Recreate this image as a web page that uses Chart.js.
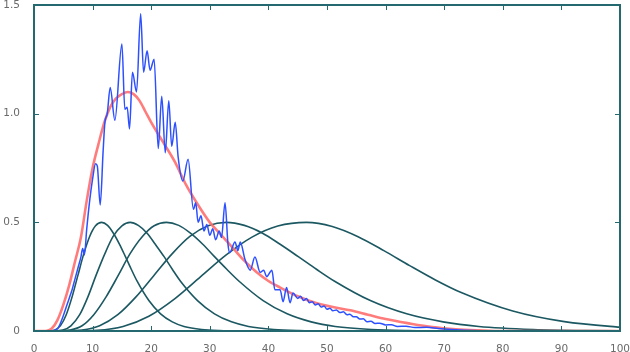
<!DOCTYPE html>
<html>
<head>
<meta charset="utf-8">
<script src="https://cdn.jsdelivr.net/npm/chart.js@4.4.1/dist/chart.umd.min.js"></script>
<style>
  html, body { margin: 0; padding: 0; background: #fff; overflow: hidden; }
  #wrap { width: 640px; height: 352px; }
</style>
</head>
<body>
<div id="wrap"><canvas id="grafico" width="640" height="352"></canvas></div>
<script>
// tick labels
const xTicks = [0, 10, 20, 30, 40, 50, 60, 70, 80, 90, 100];
const yTicks = [0, 0.5, 1, 1.5];

// shape of the four narrower component curves (peak 0.5)
const compShape = [0, 0.0001, 0.004, 0.024, 0.075, 0.157, 0.257, 0.356, 0.435, 0.484, 0.5,
                   0.486, 0.45, 0.399, 0.342, 0.284, 0.229, 0.14, 0.079, 0.042, 0.021, 0.007, 0.002, 0.0003, 0];
const compAx = [1.5, 2.5, 3.5, 4.5, 5.5, 6.5, 7.5, 8.5, 9.5, 10.5, 11.55, 12.55, 13.55, 14.6, 15.6, 16.6, 17.6, 19.6, 21.6, 23.6, 25.6, 28.6, 31.6, 36.7, 41.7];
const compBx = [2, 3.4, 4.9, 6.3, 7.8, 9.2, 10.6, 12.1, 13.5, 15.0, 16.4, 17.8, 19.3, 20.7, 22.2, 23.6, 25.0, 27.9, 30.8, 33.7, 36.6, 40.9, 45.2, 52.4, 59.6];
const compCx = [2, 4.1, 6.1, 8.2, 10.2, 12.3, 14.4, 16.4, 18.5, 20.5, 22.6, 24.7, 26.7, 28.8, 30.8, 32.9, 35.0, 39.1, 43.2, 47.3, 51.4, 57.6, 63.8, 74.1, 84.4];
const compDx = [2, 5.1, 8.2, 11.2, 14.3, 17.4, 20.5, 23.6, 26.6, 29.7, 32.8, 35.9, 39.0, 42.0, 45.1, 48.2, 51.3, 57.4, 63.6, 69.8, 75.9, 85.2, 94.4, 109.8, 125.2];

// widest component
const compEx = [2, 6.4, 10.8, 15.2, 19.6, 24, 28.4, 32.8, 37.2, 41.6, 46.5, 50.9, 55.3, 59.7, 64.1, 68.5, 72.9, 81.7, 90.5, 99.3, 103.7];
const compEy = [0, 0.0001, 0.003, 0.021, 0.068, 0.148, 0.249, 0.35, 0.432, 0.483, 0.5, 0.481, 0.434, 0.37, 0.301, 0.235, 0.177, 0.092, 0.043, 0.019, 0.012];

// smooth fitted curve (red)
const fitX = [0, 2, 3, 4, 5, 6, 7, 8, 9, 10, 11, 12, 13, 14, 15, 16, 17, 18, 19, 20, 22, 24, 26, 28, 30, 32, 34, 36, 38, 40,
              42, 45, 48, 51, 54, 57, 60, 64, 68, 72, 76, 80, 100];
const fitY = [0, 0, 0.01, 0.05, 0.12, 0.21, 0.32, 0.43, 0.60, 0.75, 0.86, 0.96, 1.03, 1.07, 1.09, 1.10, 1.09, 1.06, 1.01, 0.96,
              0.87, 0.78, 0.67, 0.58, 0.50, 0.44, 0.38, 0.32, 0.27, 0.23, 0.20, 0.16, 0.13, 0.11, 0.095, 0.075, 0.055,
              0.035, 0.018, 0.008, 0.003, 0, 0];

// measured noisy curve (blue)
const dataX = [3, 4, 4.5, 5, 5.5, 6, 6.5, 7, 7.5, 8, 8.3, 8.6, 9, 9.5, 10, 10.5, 10.8, 11.3, 11.8, 12.1, 12.5, 13.0, 13.8, 15.0,
               15.5, 15.9, 16.3, 16.8, 17.5, 18.2, 18.7, 19.3, 19.8, 20.5, 21.2, 21.8, 22.4, 23.0, 23.5, 24.1, 24.6, 25.4,
               26.3, 27.2, 27.6, 28.0, 28.5, 29.0, 29.5, 30.0, 30.5, 31.0, 31.6, 32.0, 32.6, 33.1, 33.4, 34.3, 34.8, 35.2,
               36.0, 36.9, 37.7, 38.6, 39.2, 39.7, 40.6, 41.1, 42.0, 42.5, 43.1, 43.7, 44.2, 45.0, 45.5, 46.0, 46.5, 47.0,
               47.5, 48.0, 48.5, 49.0, 49.5, 50.0, 50.5, 51.0, 51.6, 52.2, 52.8, 53.4, 53.9, 54.5, 55.0, 55.6, 56.2, 56.8,
               57.5, 58.2, 59.0, 60.0, 61.0, 62.0, 63.5, 65.0, 67.0, 69.0, 72.0, 75.0, 78.0, 100];
const dataY = [0, 0.01, 0.035, 0.07, 0.11, 0.15, 0.19, 0.24, 0.29, 0.34, 0.38, 0.35, 0.47, 0.6, 0.7, 0.77, 0.76, 0.58, 0.83, 0.96,
               1.0, 1.12, 0.97, 1.32, 1.02, 1.03, 0.93, 1.19, 1.10, 1.46, 1.19, 1.29, 1.20, 1.25, 0.84, 1.08, 0.82, 1.06,
               0.85, 0.96, 0.80, 0.69, 0.79, 0.56, 0.59, 0.50, 0.53, 0.46, 0.49, 0.44, 0.47, 0.42, 0.46, 0.43, 0.59, 0.40,
               0.36, 0.41, 0.37, 0.41, 0.33, 0.28, 0.34, 0.27, 0.28, 0.25, 0.28, 0.19, 0.19, 0.135, 0.20, 0.13, 0.175,
               0.15, 0.16, 0.14, 0.15, 0.13, 0.135, 0.12, 0.125, 0.11, 0.115, 0.10, 0.105, 0.093, 0.097, 0.085, 0.088,
               0.075, 0.077, 0.065, 0.066, 0.055, 0.056, 0.043, 0.045, 0.035, 0.036, 0.028, 0.029, 0.021, 0.022, 0.016,
               0.017, 0.012, 0.006, 0.002, 0, 0];

const pares = (xs, ys) => xs.map((x, i) => ({ x: x, y: ys[i] }));

const corComp = 'rgb(28, 88, 98)';
const corEixo = 'rgb(36, 105, 112)';

function comp(xs, ys) {
    return {
        data: pares(xs, ys),
        borderColor: corComp,
        borderWidth: 1.6,
        pointRadius: 0,
        cubicInterpolationMode: 'monotone',
        order: 2
    };
}

// caixa com marcas de escala para dentro
const caixa = {
    id: 'caixa',
    afterDraw(chart) {
        const { ctx, chartArea: a, scales } = chart;
        ctx.save();
        ctx.strokeStyle = corEixo;
        ctx.lineWidth = 2;
        ctx.beginPath();
        ctx.rect(a.left, a.top, a.right - a.left, a.bottom - a.top);
        ctx.stroke();
        ctx.lineWidth = 1;
        ctx.beginPath();
        xTicks.forEach(v => {
            const px = Math.round(scales.x.getPixelForValue(v)) + 0.5;
            ctx.moveTo(px, a.bottom); ctx.lineTo(px, a.bottom - 5);
            ctx.moveTo(px, a.top); ctx.lineTo(px, a.top + 5);
        });
        yTicks.forEach(v => {
            const py = Math.round(scales.y.getPixelForValue(v)) + 0.5;
            ctx.moveTo(a.left, py); ctx.lineTo(a.left + 5, py);
            ctx.moveTo(a.right, py); ctx.lineTo(a.right - 5, py);
        });
        ctx.stroke();
        ctx.restore();
    }
};

const ctx = document.getElementById('grafico').getContext('2d');
const grafico = new Chart(ctx, {
    type: 'line',
    data: {
        datasets: [
            {
                data: pares(dataX, dataY),
                borderColor: 'rgb(45, 80, 255)',
                borderWidth: 1.5,
                pointRadius: 0,
                cubicInterpolationMode: 'monotone',
                order: 0
            },
            {
                data: pares(fitX, fitY),
                borderColor: 'rgba(255, 110, 110, 0.9)',
                borderWidth: 2.6,
                pointRadius: 0,
                cubicInterpolationMode: 'monotone',
                order: 1
            },
            comp(compAx, compShape),
            comp(compBx, compShape),
            comp(compCx, compShape),
            comp(compDx, compShape),
            comp(compEx, compEy)
        ]
    },
    options: {
        responsive: false,
        animation: false,
        devicePixelRatio: 1,
        layout: { padding: { top: 5, right: 20, left: 0, bottom: 0 } },
        plugins: { legend: { display: false }, tooltip: { enabled: false } },
        scales: {
            x: {
                type: 'linear',
                min: 0, max: 100,
                grid: { display: false },
                border: { display: false },
                afterFit: s => { s.height = 21; s.paddingLeft = 0; s.paddingRight = 0; },
                ticks: {
                    stepSize: 10,
                    padding: 4,
                    color: '#6a6a6a',
                    font: { family: 'DejaVu Sans', size: 10.5 },
                    maxRotation: 0
                }
            },
            y: {
                min: 0, max: 1.5,
                grid: { display: false },
                border: { display: false },
                afterFit: s => { s.width = 34; s.paddingTop = 0; s.paddingBottom = 0; },
                ticks: {
                    stepSize: 0.5,
                    padding: 6,
                    color: '#6a6a6a',
                    font: { family: 'DejaVu Sans', size: 10.5 }
                }
            }
        }
    },
    plugins: [caixa]
});
</script>
</body>
</html>
